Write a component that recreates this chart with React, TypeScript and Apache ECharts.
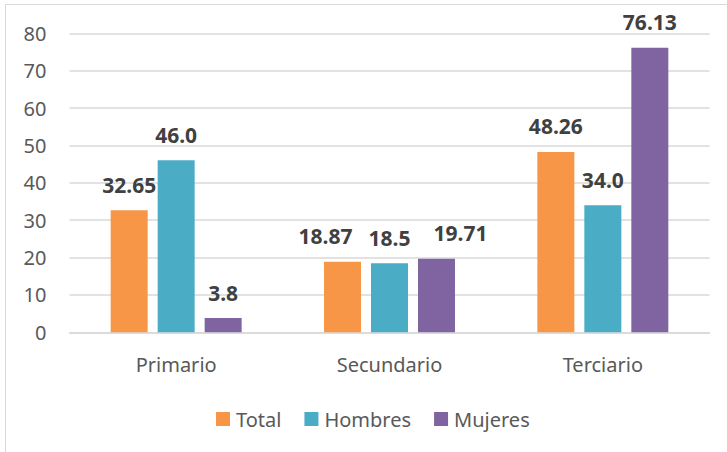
import React, { useEffect, useRef } from "react";
import * as echarts from "echarts";

const categories = ["Primario", "Secundario", "Terciario"];
const seriesNames = ["Total", "Hombres", "Mujeres"];
const totalValues = [32.65, 18.87, 48.26];
const hombresValues = [46.0, 18.5, 34.0];
const mujeresValues = [3.8, 19.71, 76.13];
const totalLabels = ["32.65", "18.87", "48.26"];
const hombresLabels = ["46.0", "18.5", "34.0"];
const mujeresLabels = ["3.8", "19.71", "76.13"];
const yTicks = { min: 0, max: 80, interval: 10 };
const colors = ["#F79646", "#4BACC6", "#8064A2"];

// horizontal label nudges (as in the reference, to avoid overlap)
const totalLabelShift = [0, -17, 0];
const hombresLabelShift = [0, 0, 0];
const mujeresLabelShift = [0, 24, 0];

export default function App() {
  const ref = useRef<HTMLDivElement>(null);
  useEffect(() => {
    if (!ref.current) return;
    const chart = echarts.init(ref.current, null, { renderer: "svg" });
    const font = "'Noto Sans', sans-serif";
    const mk = (name: string, values: number[], labels: string[], shifts: number[], color: string) => ({
      name,
      type: "bar",
      data: values.map((v, i) => ({ value: v, label: { offset: [shifts[i], 0] } })),
      barWidth: 37,
      barGap: "27%",
      itemStyle: { color },
      label: {
        show: true,
        position: "top",
        distance: 15,
        fontFamily: font,
        fontSize: 21,
        fontWeight: "bold",
        color: "#404040",
        lineHeight: 21,
        formatter: (p: any) => labels[p.dataIndex],
      },
    });
    chart.setOption({
      animation: false,
      grid: { left: 69.5, right: 17.5, top: 33.3, bottom: 119.7, containLabel: false },
      legend: {
        data: seriesNames,
        left: 211,
        top: 404,
        itemWidth: 14,
        itemHeight: 14,
        itemGap: 23,
        icon: "rect",
        textStyle: { fontFamily: font, fontSize: 20, color: "#595959", padding: [0, 0, 0, 1], lineHeight: 20 },
      },
      xAxis: {
        type: "category",
        data: categories,
        axisLine: { show: true, lineStyle: { color: "#d9d9d9", width: 1.5 } },
        axisTick: { show: false },
        axisLabel: { fontFamily: font, fontSize: 20, color: "#595959", margin: 22, lineHeight: 20 },
      },
      yAxis: {
        type: "value",
        min: yTicks.min,
        max: yTicks.max,
        interval: yTicks.interval,
        axisLine: { show: false },
        axisTick: { show: false },
        splitLine: { lineStyle: { color: "#d9d9d9", width: 1.5 } },
        axisLabel: { fontFamily: font, fontSize: 20, color: "#595959", margin: 23 },
      },
      series: [
        mk(seriesNames[0], totalValues, totalLabels, totalLabelShift, colors[0]),
        mk(seriesNames[1], hombresValues, hombresLabels, hombresLabelShift, colors[1]),
        mk(seriesNames[2], mujeresValues, mujeresLabels, mujeresLabelShift, colors[2]),
      ],
    });
    return () => chart.dispose();
  }, []);
  return (
    <div style={{ position: "absolute", left: 0, top: 0, width: 727, height: 452, overflow: "hidden", background: "#fff" }}>
      <div style={{ position: "absolute", left: 5, top: 4, width: 800, height: 800, border: "1px solid #d9d9d9" }} />
      <div ref={ref} style={{ position: "absolute", left: 0, top: 0, width: 727, height: 452 }} />
    </div>
  );
}
